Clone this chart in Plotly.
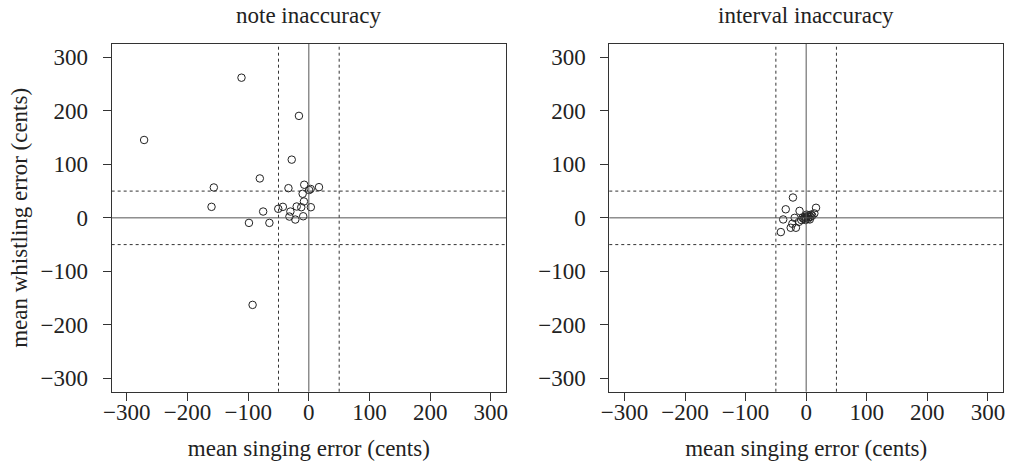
import plotly.graph_objects as go

# note inaccuracy panel (mean singing error, mean whistling error), cents
note_sing = [-111, -271.5, -16.3, -28.2, -80.8, -156.6, -33.6, -7.6, 0.5, 3.0, 16.7,
             -10.2, -8.1, -160.4, -75.3, -50.4, -42.8, -30.4, -32.0, -22.3, -20.0,
             -12.5, 3.3, -9.3, -98.7, -65.0, -92.7]
note_whistle = [262, 145.6, 190.6, 108.8, 73.7, 56.8, 55.5, 61.9, 52, 54, 57.4,
                45, 30.6, 20.6, 11.8, 16.9, 20.6, 11.8, 2.4, -3.2, 21.2,
                19.9, 19.9, 3.0, -9.4, -9.4, -162.7]

# interval inaccuracy panel
int_sing = [-21.8, -33.7, -37.9, -41.8, -25.5, -16.9, -22.8, -10.9, -19.0, 16.3, 13.5,
            -8.0, -12.0, 0, 2, 5, -2, 3, 7, -4, 1, 8, -1, 4, 6, 10, -6]
int_whistle = [38, 16, -3, -26.6, -18.5, -18.5, -11, 13, 0, 18.8, 8.3,
               -4, -7.5, 0, 3, 5, 2, -2, 2, -2, 6, 6, -4, 1, -3, 4, 0]

ticks = [-300, -200, -100, 0, 100, 200, 300]
tick_text = ["\u2212300", "\u2212200", "\u2212100", "0", "100", "200", "300"]
titles = ["note inaccuracy", "interval inaccuracy"]

FONT = "Liberation Serif"
FS = 23
W, H = 1009, 464

fig = go.Figure()

panels = [
    (note_sing, note_whistle, "x", "y", (104.7, 503.0)),
    (int_sing, int_whistle, "x2", "y2", (607.3, 1005.0)),
]
top_px, bot_px = 44.0, 391.7

for i, (xs, ys, xa, ya, (l, r)) in enumerate(panels):
    fig.add_trace(go.Scatter(
        x=xs, y=ys, mode="markers", xaxis=xa, yaxis=ya,
        marker=dict(symbol="circle-open", size=7.5, color="#222",
                    line=dict(width=1, color="#222")),
        showlegend=False, hoverinfo="skip"))
    for v, solid, col in [(0, True, "#555"), (-50, False, "#333"), (50, False, "#333")]:
        dash = "solid" if solid else "3px,3px"
        fig.add_shape(type="line", xref=xa, yref=f"{ya} domain", x0=v, x1=v, y0=0, y1=1,
                      line=dict(color=col, width=1, dash=dash))
        fig.add_shape(type="line", xref=f"{xa} domain", yref=ya, x0=0, x1=1, y0=v, y1=v,
                      line=dict(color=col, width=1, dash=dash))
    axis_common = dict(
        range=[-325, 325], tickvals=ticks, ticktext=tick_text, ticks="outside",
        ticklen=8, tickwidth=1, tickcolor="#333", showgrid=False, zeroline=False,
        showline=True, linecolor="#333", linewidth=1, mirror=True,
        tickfont=dict(family=FONT, size=FS, color="#222"),
    )
    xkey = "xaxis" if i == 0 else "xaxis2"
    ykey = "yaxis" if i == 0 else "yaxis2"
    fig.update_layout(**{
        xkey: dict(axis_common, domain=[l / W, r / W], anchor=ya, ticklabelstandoff=-8,
                   title=dict(text="mean singing error (cents)",
                              font=dict(family=FONT, size=FS, color="#222"), standoff=15)),
        ykey: dict(axis_common, domain=[1 - bot_px / H, 1 - top_px / H], anchor=xa,
                   ticklabelstandoff=10,
                   title=dict(text="mean whistling error (cents)" if i == 0 else "",
                              font=dict(family=FONT, size=FS, color="#222"), standoff=6)),
    })
    fig.add_annotation(text=titles[i], xref="paper", yref="paper",
                       x=(l + r) / 2 / W, y=1 - 16 / H, xanchor="center", yanchor="middle",
                       showarrow=False, font=dict(family=FONT, size=FS, color="#222"))

fig.update_layout(width=W, height=H, margin=dict(l=0, r=0, t=0, b=0),
                  paper_bgcolor="white", plot_bgcolor="white")
fig.write_html("out.html", config={"displayModeBar": False},
               post_script="document.body.style.margin='0';document.body.style.overflow='hidden';")
